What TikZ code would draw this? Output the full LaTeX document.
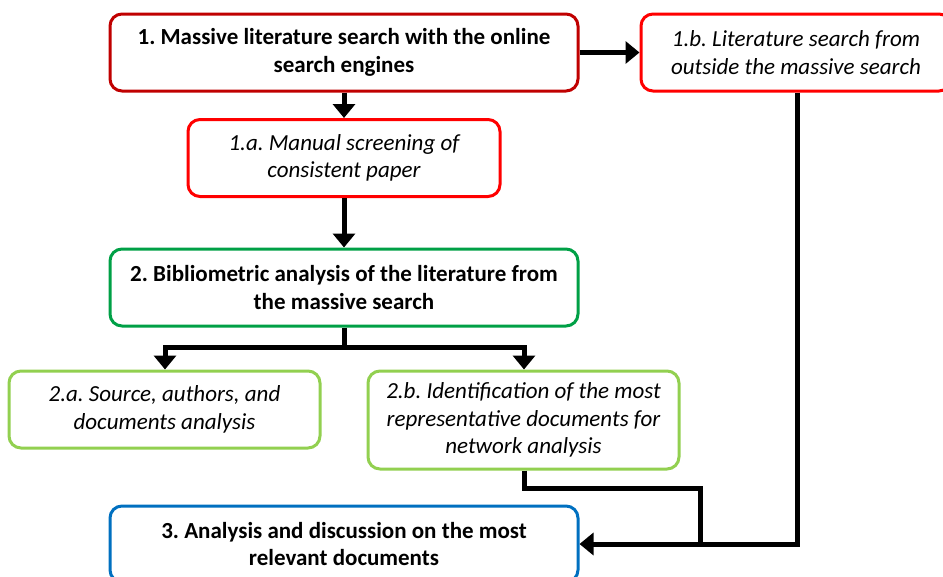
\documentclass[tikz,border=0pt]{standalone}
\usepackage{fontspec}
\setmainfont{Carlito}
\usetikzlibrary{arrows.meta}
\definecolor{dred}{HTML}{C00000}
\definecolor{bred}{HTML}{FF0000}
\definecolor{dgreen}{HTML}{00A046}
\definecolor{lgreen}{HTML}{92D050}
\definecolor{bblue}{HTML}{0070C0}
\tikzset{
  box/.style={draw, line width=3pt, rounded corners=12pt, fill=white, align=center, inner sep=2pt},
  bx/.style={box, font=\fontsize{23}{27.5}\selectfont\frenchspacing\bfseries},
  it/.style={box, font=\fontsize{23}{27.5}\selectfont\frenchspacing\itshape},
  conn/.style={line width=5pt, line join=miter},
  arr/.style={conn, -{Triangle[width=22pt,length=14pt]}},
}
\begin{document}
\begin{tikzpicture}[x=1pt,y=-1pt]
\useasboundingbox (0,0) rectangle (943,576);
\node[bx, draw=dred, minimum width=468pt, minimum height=77pt] (b1) at (344,52.5)
  {1. Massive literature search with the online\\search engines};
\node[it, draw=bred, minimum width=310pt, minimum height=77pt] (b1b) at (796,52.5)
  {1.b. Literature search from\\outside the massive search};
\node[it, draw=bred, minimum width=312pt, minimum height=77pt] (b1a) at (344,158)
  {1.a. Manual screening of\\consistent paper};
\node[bx, draw=dgreen, minimum width=468pt, minimum height=77pt] (b2) at (344,287.5)
  {2. Bibliometric analysis of the literature from\\the massive search};
\node[it, draw=lgreen, minimum width=311pt, minimum height=77pt] (b2a) at (164.5,409.5)
  {2.a. Source, authors, and\\documents analysis};
\node[it, draw=lgreen, minimum width=311pt, minimum height=98pt] (b2b) at (523.5,420)
  {2.b. Identification of the most\\representative documents for\\network analysis};
\node[bx, draw=bblue, minimum width=468pt, minimum height=76pt] (b3) at (344,544)
  {3. Analysis and discussion on the most\\relevant documents};
\coordinate (s) at (344,347);
\coordinate (s1) at (165,347);
\coordinate (s2) at (524,347);
\coordinate (k1) at (524,488);
\coordinate (k2) at (700,488);
\coordinate (j2) at (700,544);
\coordinate (j1) at (797,544);
\draw[arr] (b1.east |- b1b.west) -- (b1b.west);
\draw[arr] (b1.south) -- (b1a.north);
\draw[arr] (b1a.south) -- (b2.north);
\draw[conn] (b2.south) -- (s);
\draw[arr] (s) -- (s1) -- (s1 |- b2a.north);
\draw[arr] (s) -- (s2) -- (s2 |- b2b.north);
\draw[arr] (b1b.south -| j1) -- (j1) -- (b3.east);
\draw[conn] (b2b.south -| k1) -- (k1) -- (k2) -- (j2);
\end{tikzpicture}
\end{document}
